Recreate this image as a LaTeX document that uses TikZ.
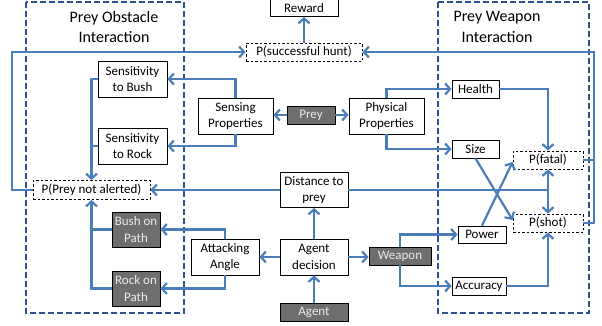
\documentclass[tikz,border=0pt]{standalone}
\usepackage{fontspec}
\setmainfont{Carlito}
\usetikzlibrary{arrows.meta,calc}
\definecolor{lineblue}{RGB}{74,126,187}
\definecolor{grpblue}{RGB}{47,82,143}
\definecolor{boxgrey}{RGB}{110,110,110}
\definecolor{greytext}{RGB}{235,235,235}
\begin{document}
\begin{tikzpicture}[x=1pt,y=-1pt,
 nbox/.style={draw=black, line width=0.8pt, fill=white, inner sep=0pt, align=center, font=\fontsize{13}{16.5}\selectfont},
 dbox/.style={nbox, dash pattern=on 2.5pt off 2pt},
 gbox/.style={nbox, fill=boxgrey, text=greytext},
 link/.style={draw=lineblue, line width=2.2pt, -{Straight Barb[length=5pt,width=11pt]}},
 linkplain/.style={draw=lineblue, line width=2.2pt},
 grp/.style={draw=grpblue, line width=2pt, dash pattern=on 6pt off 3pt},
 grptitle/.style={align=center, font=\fontsize{16}{20.5}\selectfont, inner sep=0pt}
]
\useasboundingbox (0,0) rectangle (602,325);
% groups
\draw[grp] (26,2) rectangle (184,313);
\draw[grp] (438,2) rectangle (589,313);
\node[grptitle] (t1) at (114,27) {Prey Obstacle\\Interaction};
\node[grptitle] (t2) at (497,27) {Prey Weapon\\Interaction};
% nodes
\node[nbox, minimum width=68pt, minimum height=17pt] (reward) at (304,8) {Reward};
\node[dbox, minimum width=116pt, minimum height=18pt] (psh) at (304,52) {P(successful hunt)};
\node[nbox, minimum width=69pt, minimum height=36pt] (bush) at (132.5,79) {Sensitivity\\to Bush};
\node[nbox, minimum width=69pt, minimum height=36pt] (rock) at (132.5,146) {Sensitivity\\to Rock};
\node[nbox, minimum width=75pt, minimum height=36pt] (sens) at (235.5,116) {Sensing\\Properties};
\node[gbox, minimum width=48pt, minimum height=18pt] (prey) at (311,115) {Prey};
\node[nbox, minimum width=75pt, minimum height=36pt] (phys) at (386.5,116) {Physical\\Properties};
\node[nbox, minimum width=47pt, minimum height=18pt] (health) at (475.5,89) {Health};
\node[nbox, minimum width=47pt, minimum height=18pt] (size) at (475.5,149) {Size};
\node[dbox, minimum width=70pt, minimum height=18pt] (pfatal) at (548,160) {P(fatal)};
\node[dbox, minimum width=70pt, minimum height=18pt] (pshot) at (548,223) {P(shot)};
\node[nbox, minimum width=48pt, minimum height=17pt] (power) at (482,234.5) {Power};
\node[nbox, minimum width=54pt, minimum height=18pt] (acc) at (479,286) {Accuracy};
\node[gbox, minimum width=62pt, minimum height=18pt] (weap) at (400,256) {Weapon};
\node[nbox, minimum width=68pt, minimum height=36pt] (dec) at (314,257) {Agent\\decision};
\node[gbox, minimum width=68pt, minimum height=18pt] (agent) at (314,312) {Agent};
\node[nbox, minimum width=68pt, minimum height=36pt] (att) at (225,257) {Attacking\\Angle};
\node[nbox, minimum width=68pt, minimum height=35pt] (dist) at (314,190) {Distance to\\prey};
\node[gbox, minimum width=48pt, minimum height=35pt] (bop) at (136,229.5) {Bush on\\Path};
\node[gbox, minimum width=48pt, minimum height=35pt] (rop) at (136,288.5) {Rock on\\Path};
\node[dbox, minimum width=117pt, minimum height=19pt] (pna) at (91.5,190) {P(Prey not alerted)};
% helper coordinates
\coordinate (cl) at (12,52);
\coordinate (cr) at (594,52);
\coordinate (j) at (pfatal.south |- dist.east);
% connectors
\draw[link] (psh.north) -- (reward.south);
\draw[link] (pna.west) -| (cl) -- (psh.west);
\draw[link] (pshot.east) -| (cr) -- (psh.east);
\draw[linkplain] (pfatal.east) -- (pfatal.east -| cr);
\draw[link] (sens.north) |- (bush.east);
\draw[link] (sens.south) |- (rock.east);
\draw[link] (prey.west) -- (prey.west -| sens.east);
\draw[link] (prey.east) -- (prey.east -| phys.west);
\draw[link] (phys.north) |- (health.west);
\draw[link] (phys.south) |- (size.west);
\draw[link] (health.east) -| (pfatal.north);
\draw[link] (size.south) -- ([yshift=3pt]pshot.west);
\draw[link] (power.north) -- ([yshift=-2pt]pfatal.west);
\draw[link] (dist.west) -- (pna.east);
\draw[linkplain] (dist.east) -- (j);
\draw[link] (j) -- (pfatal.south);
\draw[link] (j) -- (pshot.north);
\draw[link] (bush.west) -| (pna.north);
\draw[linkplain] (rock.west) -- (rock.west -| pna.north);
\draw[link] (rop.west) -| (pna.south);
\draw[linkplain] (bop.west) -- (bop.west -| pna.south);
\draw[link] (att.north) |- (bop.east);
\draw[link] (att.south) |- (rop.east);
\draw[link] (dec.west) -- (att.east);
\draw[link] (dec.north) -- (dist.south);
\draw[link] (agent.north) -- (dec.south);
\draw[link] (dec.east) -- (dec.east -| weap.west);
\draw[link] (weap.north) |- (power.west);
\draw[link] (weap.south) |- (acc.west);
\draw[link] (acc.east) -| (pshot.south);
\end{tikzpicture}
\end{document}
